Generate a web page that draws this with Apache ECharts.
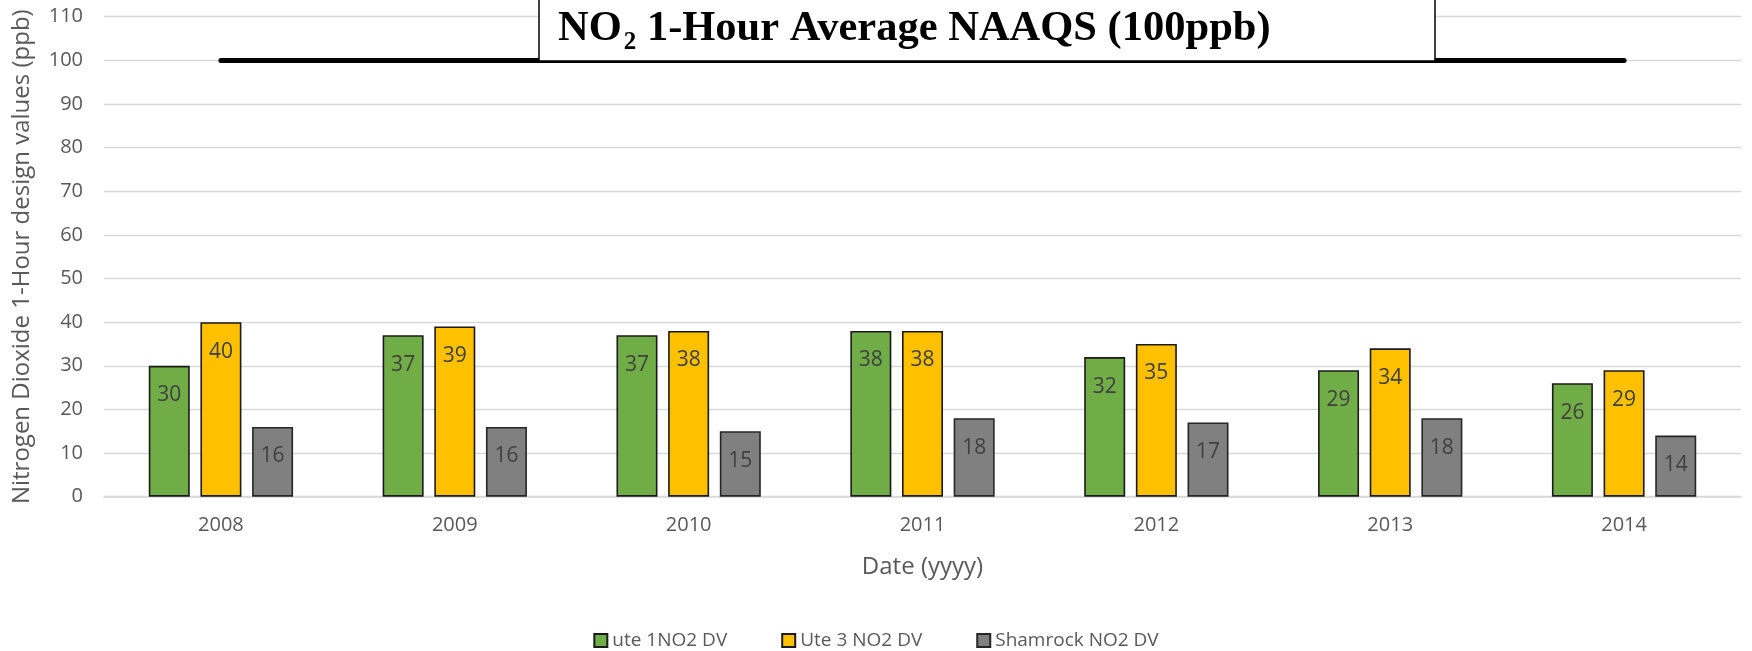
<!DOCTYPE html>
<html>
<head>
<meta charset="utf-8">
<script src="https://cdn.jsdelivr.net/npm/echarts@6/dist/echarts.min.js"></script>
<style>
html,body{margin:0;padding:0;background:#fff;}
#chart{width:1752px;height:651px;}
</style>
</head>
<body>
<div id="chart"></div>
<script>
const years = ['2008','2009','2010','2011','2012','2013','2014'];
const ute1 = [30,37,37,38,32,29,26];
const ute3 = [40,39,38,38,35,34,29];
const shamrock = [16,16,15,18,17,18,14];
const seriesNames = ['ute 1NO2 DV','Ute 3 NO2 DV','Shamrock NO2 DV'];
const standardValue = 100;
const yTicks = {min:0, max:110, interval:10};

const FONT = '"Open Sans", sans-serif';
const TXT = '#595959';

const chart = echarts.init(document.getElementById('chart'), null, {renderer:'canvas'});

// measure title pieces
const cv = document.createElement('canvas').getContext('2d');
cv.font = 'bold 42.5px "Liberation Serif"';
const wNO = cv.measureText('NO').width;
cv.font = 'bold 25px "Liberation Serif"';
const w2 = cv.measureText('2').width;
const tx0 = 558;

function mkSeries(name, data, color, border){
  return {
    name, type:'bar', data,
    barWidth:41, barGap:'26%',
    itemStyle:{color, borderColor:border, borderWidth:1.6},
    label:{show:true, position:'insideTop', distance:19, color:'#404040', fontSize:21, fontFamily:FONT}
  };
}

const s2 = mkSeries(seriesNames[1], ute3, '#FFC000', '#1a1a1a');
s2.markLine = {
  silent:true, symbol:'none', animation:false,
  label:{show:false},
  lineStyle:{color:'#000', width:5, type:'solid', cap:'round'},
  data:[[{coord:[years[0], standardValue]},{coord:[years[years.length-1], standardValue]}]]
};

chart.setOption({
  animation:false,
  backgroundColor:'#fff',
  grid:{left:104, right:11, top:16.7, bottom:154.3},
  xAxis:{
    type:'category', data:years,
    name:'Date (yyyy)', nameLocation:'middle', nameGap:58,
    nameTextStyle:{color:TXT, fontSize:24, fontFamily:FONT},
    axisLine:{show:true, lineStyle:{color:'#d9d9d9', width:1.5}},
    axisTick:{show:false},
    axisLabel:{color:TXT, fontSize:20, fontFamily:FONT, margin:19}
  },
  yAxis:{
    type:'value', min:yTicks.min, max:yTicks.max, interval:yTicks.interval,
    name:'Nitrogen Dioxide 1-Hour design values (ppb)', nameLocation:'middle', nameGap:70,
    nameTextStyle:{color:TXT, fontSize:24, fontFamily:FONT},
    axisLine:{show:false}, axisTick:{show:false},
    axisLabel:{color:TXT, fontSize:20, fontFamily:FONT, margin:21},
    splitLine:{lineStyle:{color:'#d9d9d9', width:1.3}}
  },
  legend:{
    data:seriesNames, left:'center', top:626,
    itemWidth:13, itemHeight:13, itemGap:54, icon:'rect',
    textStyle:{color:TXT, fontSize:19, fontFamily:FONT}
  },
  series:[
    mkSeries(seriesNames[0], ute1, '#70AD47', '#1a1a1a'),
    s2,
    mkSeries(seriesNames[2], shamrock, '#808080', '#262626')
  ],
  graphic:[
    {type:'rect', z:50, shape:{x:539, y:-3, width:896, height:64},
     style:{fill:'#fff', stroke:'#000', lineWidth:1.5}},
    {type:'text', z:51, style:{text:'NO', x:tx0, y:29.5, font:'bold 42.5px "Liberation Serif"', fill:'#000', textAlign:'left', textVerticalAlign:'middle'}},
    {type:'text', z:51, style:{text:'2', x:tx0 + wNO + 2, y:42.5, font:'bold 25px "Liberation Serif"', fill:'#000', textAlign:'left', textVerticalAlign:'middle'}},
    {type:'text', z:51, style:{text:' 1-Hour Average NAAQS (100ppb)', x:tx0 + wNO + 2 + w2, y:29.5, font:'bold 42.5px "Liberation Serif"', fill:'#000', textAlign:'left', textVerticalAlign:'middle'}}
  ]
});
</script>
</body>
</html>
